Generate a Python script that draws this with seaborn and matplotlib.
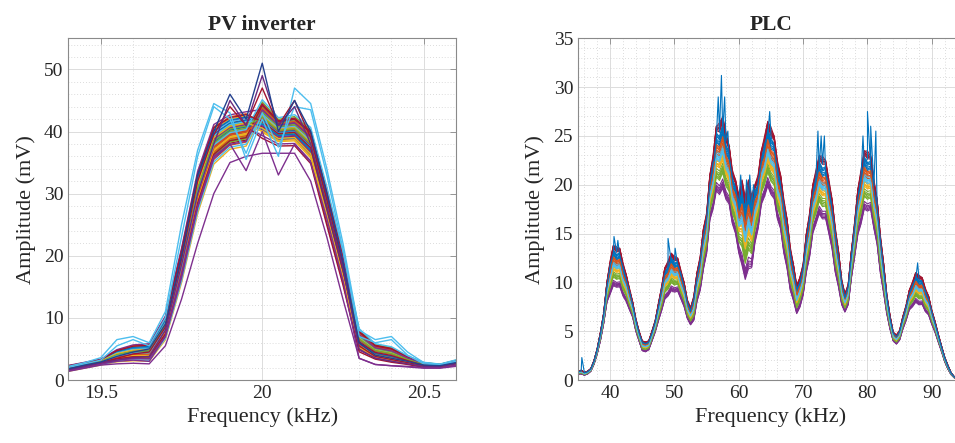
import numpy as np
import pandas as pd
import matplotlib
matplotlib.use("Agg")
import matplotlib.pyplot as plt
from matplotlib.ticker import MultipleLocator
import seaborn as sns

# MATLAB default colour order
MATLAB_COLORS = ['#0072BD', '#D95319', '#EDB120', '#7E2F8E', '#77AC30', '#4DBEEE', '#A2142F']

# --- PV inverter: band (kHz / mV) ---
pv_freq = [19.40, 19.45, 19.50, 19.55, 19.60, 19.65, 19.70, 19.75, 19.80, 19.85, 19.90, 19.95,
           20.00, 20.05, 20.10, 20.15, 20.20, 20.25, 20.30, 20.35, 20.40, 20.45, 20.50, 20.55, 20.60]
pv_upper = [2.4, 2.9, 3.4, 5.0, 5.8, 6.0, 10.5, 21.5, 34.0, 41.5, 43.0, 43.5,
            45.5, 42.5, 43.0, 41.0, 31.5, 21.0, 8.5, 6.0, 5.5, 4.0, 2.9, 2.6, 3.3]
pv_lower = [1.3, 1.8, 2.3, 2.7, 2.8, 2.7, 6.0, 15.0, 26.0, 34.0, 36.5, 37.0,
            38.0, 37.0, 37.0, 34.0, 24.0, 14.5, 4.0, 3.0, 2.5, 2.3, 1.9, 1.9, 2.2]
# position of each trace inside the band (below 20 kHz / from 20 kHz on)
pv_w_left = [0.50, 0.62, 0.35, 0.80, 0.45, 0.70, 0.25, 0.58, 0.90, 0.40, 0.66, 0.30, 0.55, 0.75,
             0.48, 0.20, 0.85, 0.60, 0.38, 0.52, 0.72, 0.44, 0.64, 0.10, 0.57, 0.33, 0.78, 0.47,
             0.68, 0.53, 0.42, 0.95, 0.28, 0.61, 0.50, 0.74, 0.36, 0.56, 0.46, 0.69, 0.15, 0.59,
             0.82, 0.49, 0.39, 0.63, 0.54, 0.71, 0.31, 0.58, 0.45, 0.67, 0.22, 0.60, 0.51, 0.88]
pv_w_right = [0.55, 0.48, 0.66, 0.40, 0.72, 0.35, 0.60, 0.82, 0.45, 0.58, 0.30, 0.76, 0.52, 0.42,
              0.68, 0.56, 0.25, 0.63, 0.90, 0.47, 0.37, 0.70, 0.53, 0.61, 0.18, 0.79, 0.44, 0.57,
              0.33, 0.65, 0.50, 0.74, 0.59, 0.41, 0.86, 0.54, 0.62, 0.28, 0.71, 0.46, 0.64, 0.12,
              0.51, 0.77, 0.60, 0.39, 0.69, 0.49, 0.83, 0.43, 0.56, 0.34, 0.73, 0.58, 0.95, 0.48]
# outlier traces read individually, with the colour they show
pv_low_purple = [1.4, 1.9, 2.4, 2.6, 2.7, 2.6, 5.5, 13.0, 22.0, 30.0, 35.0, 36.0,
                 36.5, 36.5, 36.5, 32.0, 23.0, 13.0, 3.5, 2.5, 2.3, 2.1, 1.9, 1.9, 2.2]
pv_sag_purple = [1.5, 2.0, 2.6, 3.0, 3.2, 3.0, 7.0, 17.0, 28.0, 36.0, 38.0, 33.7,
                 40.0, 33.0, 38.0, 35.0, 26.0, 16.0, 3.5, 2.5, 2.3, 2.2, 2.0, 2.0, 2.4]
pv_cyan_b = [2.0, 2.6, 3.2, 5.5, 6.5, 5.5, 10.0, 23.0, 36.0, 44.0, 42.0, 36.5,
             43.0, 37.5, 44.0, 43.5, 33.0, 21.0, 7.0, 6.0, 6.5, 4.0, 2.6, 2.4, 2.9]
pv_cyan_a = [2.2, 2.8, 3.6, 6.5, 7.0, 6.0, 11.0, 25.0, 37.0, 44.5, 43.0, 35.5,
             42.0, 36.0, 47.0, 44.5, 34.0, 22.0, 8.0, 6.5, 7.0, 4.5, 2.8, 2.5, 3.0]
pv_spike_red = [1.8, 2.3, 2.8, 3.5, 4.2, 4.5, 8.5, 19.5, 32.0, 39.5, 44.0, 41.0,
                47.0, 41.0, 45.0, 39.0, 29.0, 18.5, 5.5, 3.8, 3.3, 2.8, 2.3, 2.2, 2.7]
pv_spike_purple = [1.7, 2.2, 2.8, 3.2, 3.6, 3.8, 8.0, 18.5, 30.0, 38.0, 45.0, 41.0,
                   49.0, 41.0, 44.0, 38.0, 28.0, 18.0, 5.0, 3.5, 3.0, 2.6, 2.2, 2.2, 2.6]
pv_spike_blue = [1.8, 2.4, 2.9, 3.8, 4.5, 5.0, 9.0, 20.0, 33.0, 40.0, 46.0, 42.0,
                 51.0, 40.0, 45.0, 40.0, 30.0, 19.0, 6.0, 4.0, 3.5, 3.0, 2.4, 2.3, 2.8]
pv_extra = [pv_low_purple, pv_sag_purple, pv_cyan_b, pv_cyan_a, pv_spike_red, pv_spike_purple, pv_spike_blue]
pv_extra_colors = ['#7E2F8E', '#7E2F8E', '#4DBEEE', '#4DBEEE', '#A2142F', '#6a2a7e', '#24408e']

# --- PLC: band at 0.5 kHz ---
plc_freq = [35.0, 35.5, 36.0, 36.5, 37.0, 37.5, 38.0, 38.5, 39.0, 39.5, 40.0, 40.5, 41.0, 41.5,
            42.0, 42.5, 43.0, 43.5, 44.0, 44.5, 45.0, 45.5, 46.0, 46.5, 47.0, 47.5, 48.0, 48.5,
            49.0, 49.5, 50.0, 50.5, 51.0, 51.5, 52.0, 52.5, 53.0, 53.5, 54.0, 54.5, 55.0, 55.5,
            56.0, 56.5, 57.0, 57.5, 58.0, 58.5, 59.0, 59.5, 60.0, 60.5, 61.0, 61.5, 62.0, 62.5,
            63.0, 63.5, 64.0, 64.5, 65.0, 65.5, 66.0, 66.5, 67.0, 67.5, 68.0, 68.5, 69.0, 69.5,
            70.0, 70.5, 71.0, 71.5, 72.0, 72.5, 73.0, 73.5, 74.0, 74.5, 75.0, 75.5, 76.0, 76.5,
            77.0, 77.5, 78.0, 78.5, 79.0, 79.5, 80.0, 80.5, 81.0, 81.5, 82.0, 82.5, 83.0, 83.5,
            84.0, 84.5, 85.0, 85.5, 86.0, 86.5, 87.0, 87.5, 88.0, 88.5, 89.0, 89.5, 90.0, 90.5,
            91.0, 91.5, 92.0, 92.5, 93.0, 93.5, 94.0, 94.5, 95.0]
plc_lower = [0.6, 0.6, 0.5, 0.6, 0.9, 1.6, 2.7, 4.0, 5.8, 7.8, 8.8, 9.3, 9.5, 9.2,
             8.6, 7.8, 7.2, 6.3, 5.0, 3.9, 3.0, 2.8, 3.1, 3.9, 4.9, 5.9, 7.1, 8.0,
             8.6, 8.8, 9.0, 8.8, 8.3, 7.3, 6.3, 5.5, 6.1, 7.8, 9.2, 11.0, 13.0, 16.0,
             17.5, 18.8, 19.0, 19.0, 18.5, 17.5, 16.0, 14.5, 13.0, 11.0, 10.3, 10.6, 11.5, 13.5,
             15.5, 17.5, 18.8, 19.3, 19.0, 18.0, 16.5, 15.0, 13.0, 11.0, 9.2, 7.8, 6.8, 7.2,
             8.7, 10.7, 12.6, 14.6, 16.0, 16.5, 16.5, 16.0, 15.0, 13.0, 11.0, 9.2, 7.7, 6.8,
             7.7, 10.2, 12.6, 14.5, 16.0, 17.0, 17.3, 17.0, 15.5, 13.5, 11.0, 8.7, 6.8, 5.1,
             4.0, 3.6, 4.1, 5.1, 6.1, 7.0, 7.5, 7.7, 7.7, 7.5, 7.0, 6.5, 5.7, 4.8,
             3.9, 2.9, 1.9, 1.1, 0.55, 0.22, 0.1, 0.05, 0.05]
plc_upper = [0.9, 1.0, 0.8, 0.9, 1.2, 2.0, 3.3, 4.9, 7.0, 10.0, 12.5, 13.8, 14.0, 13.5,
             12.3, 10.8, 9.6, 8.0, 6.4, 5.0, 4.1, 3.9, 4.1, 5.0, 6.2, 7.8, 9.8, 11.5,
             12.5, 13.0, 13.0, 12.5, 11.5, 10.0, 8.4, 7.4, 8.8, 11.0, 13.0, 15.5, 17.5, 21.0,
             23.5, 26.0, 27.0, 27.0, 26.0, 24.0, 22.0, 20.5, 19.5, 20.5, 19.5, 20.5, 19.5, 20.0,
             21.5, 23.5, 25.5, 26.5, 26.5, 25.0, 23.0, 21.0, 19.0, 16.5, 14.0, 11.8, 10.0, 10.5,
             12.2, 15.0, 17.5, 20.0, 22.0, 23.0, 23.5, 22.5, 21.0, 18.5, 16.0, 13.2, 10.5, 8.8,
             10.0, 13.2, 16.5, 19.5, 22.0, 23.5, 24.0, 23.0, 21.0, 18.5, 15.2, 12.0, 9.0, 6.6,
             5.0, 4.6, 5.2, 6.5, 7.8, 9.2, 10.3, 11.0, 11.0, 10.5, 9.6, 8.6, 7.3, 6.0,
             4.8, 3.5, 2.4, 1.5, 0.75, 0.32, 0.12, 0.05, 0.05]
# trace positions inside the band on even / odd samples, grouped by colour
# (blue, orange, yellow, purple, green, cyan, red)
plc_w_even = [0.70, 0.52, 0.38, 0.04, 0.22, 0.46, 0.84,
              0.64, 0.56, 0.41, 0.08, 0.27, 0.49, 0.88,
              0.74, 0.50, 0.35, 0.02, 0.20, 0.44, 0.80,
              0.67, 0.58, 0.43, 0.11, 0.30, 0.52, 0.92,
              0.62, 0.54, 0.39, 0.06, 0.25, 0.47, 0.82,
              0.72, 0.60, 0.34, 0.00, 0.18, 0.42, 0.86]
plc_w_odd = [0.86, 0.64, 0.46, 0.12, 0.34, 0.58, 0.98,
             0.80, 0.70, 0.52, 0.16, 0.36, 0.62, 1.00,
             0.90, 0.60, 0.48, 0.10, 0.30, 0.56, 0.94,
             0.82, 0.72, 0.50, 0.20, 0.40, 0.66, 0.99,
             0.78, 0.66, 0.47, 0.14, 0.33, 0.60, 0.96,
             0.88, 0.74, 0.44, 0.08, 0.28, 0.54, 0.97]
# tallest spikes seen on single traces (kHz, mV)
plc_spike_freq = [35.6, 40.6, 41.2, 49.0, 50.1, 56.2, 56.8, 57.3, 57.8, 58.3, 60.3, 61.2,
                  61.7, 62.3, 63.2, 64.8, 72.3, 72.8, 73.3, 79.3, 80.0, 80.5, 81.3, 87.8]
plc_spike_amp = [2.3, 14.7, 14.3, 14.5, 13.5, 22.5, 29.0, 31.2, 29.0, 25.5, 21.0, 20.5,
                 21.0, 20.0, 21.0, 27.5, 25.5, 25.0, 25.0, 25.0, 27.5, 26.0, 25.5, 12.0]


def build_pv_frame():
    lo = np.array(pv_lower)
    hi = np.array(pv_upper)
    f = np.array(pv_freq)
    rows = []
    colors = {}
    k = 0
    for wl, wr in zip(pv_w_left, pv_w_right):
        w = np.where(f < 20.0, wl, wr)
        rows.append(pd.DataFrame({'f': f, 'a': lo + w * (hi - lo), 'trace': k}))
        colors[k] = MATLAB_COLORS[k % 7]
        k += 1
    for extra, c in zip(pv_extra, pv_extra_colors):
        rows.append(pd.DataFrame({'f': f, 'a': extra, 'trace': k}))
        colors[k] = c
        k += 1
    return pd.concat(rows, ignore_index=True), colors


def build_plc_frame():
    lo = np.array(plc_lower)
    hi = np.array(plc_upper)
    f = np.array(plc_freq)
    even = np.arange(len(f)) % 2 == 0
    rows = []
    colors = {}
    for k, (we, wo) in enumerate(zip(plc_w_even, plc_w_odd)):
        w = np.where(even, we, wo)
        rows.append(pd.DataFrame({'f': f, 'a': lo + w * (hi - lo), 'trace': k}))
        colors[k] = MATLAB_COLORS[k % 7]
    # one top trace carrying the isolated spikes
    k = len(plc_w_even)
    top = pd.DataFrame({'f': np.concatenate([f, plc_spike_freq]),
                        'a': np.concatenate([lo + 0.8 * (hi - lo), plc_spike_amp])})
    top = top.sort_values('f')
    top['trace'] = k
    rows.append(top)
    colors[k] = MATLAB_COLORS[0]
    return pd.concat(rows, ignore_index=True), colors


def style_axis(ax):
    ax.set_axisbelow(True)
    ax.grid(which='major', color='#dcdcdc', lw=0.7, ls='-')
    ax.grid(which='minor', color='#d0d0d0', lw=0.6, ls=(0, (1, 2.5)))
    for sp in ax.spines.values():
        sp.set_color('#8a8a8a')
        sp.set_linewidth(0.8)
        sp.set_visible(True)
    ax.tick_params(which='both', direction='in', colors='#8a8a8a', labelcolor='#262626',
                   labelsize=14, top=True, right=True)
    ax.tick_params(which='major', length=4, width=0.6)
    ax.tick_params(which='minor', length=0)


sns.set_style("white")
plt.rcParams['font.family'] = ['Liberation Serif', 'DejaVu Serif']

fig = plt.figure(figsize=(9.55, 4.43), dpi=100)
ax1 = fig.add_axes([0.0717, 0.1422, 0.4058, 0.7713])
ax2 = fig.add_axes([0.6052, 0.1422, 0.4042, 0.7713])

pv_df, pv_pal = build_pv_frame()
sns.lineplot(data=pv_df, x='f', y='a', hue='trace', palette=pv_pal, estimator=None,
             legend=False, lw=1.0, ax=ax1)
ax1.set_xlim(19.4, 20.6)
ax1.set_ylim(0, 55)
ax1.xaxis.set_major_locator(MultipleLocator(0.5))
ax1.xaxis.set_minor_locator(MultipleLocator(0.1))
ax1.yaxis.set_major_locator(MultipleLocator(10))
ax1.yaxis.set_minor_locator(MultipleLocator(2))
style_axis(ax1)
ax1.set_title('PV inverter', fontsize=15.5, fontweight='bold', pad=6)
ax1.set_xlabel('Frequency (kHz)', fontsize=16, color='#262626', labelpad=4)
ax1.set_ylabel('Amplitude (mV)', fontsize=16, color='#262626', labelpad=6)

plc_df, plc_pal = build_plc_frame()
sns.lineplot(data=plc_df, x='f', y='a', hue='trace', palette=plc_pal, estimator=None,
             legend=False, lw=0.8, ax=ax2)
ax2.set_xlim(35, 95)
ax2.set_ylim(0, 35)
ax2.xaxis.set_major_locator(MultipleLocator(10))
ax2.xaxis.set_minor_locator(MultipleLocator(2))
ax2.yaxis.set_major_locator(MultipleLocator(5))
ax2.yaxis.set_minor_locator(MultipleLocator(1))
style_axis(ax2)
ax2.set_title('PLC', fontsize=15.5, fontweight='bold', pad=6)
ax2.set_xlabel('Frequency (kHz)', fontsize=16, color='#262626', labelpad=4)
ax2.set_ylabel('Amplitude (mV)', fontsize=16, color='#262626', labelpad=6)

for ax in (ax1, ax2):
    ax.set_xticklabels([('%g' % t) for t in ax.get_xticks()])

fig.savefig('out.png', dpi=100)
